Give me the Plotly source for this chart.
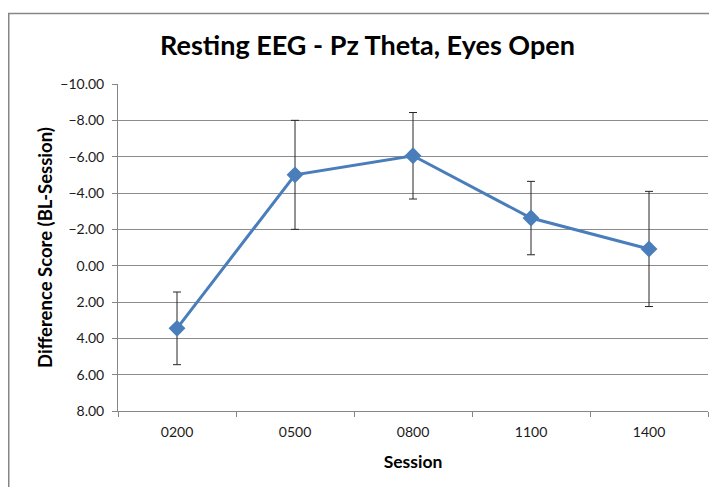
import plotly.graph_objects as go

sessions = ["0200", "0500", "0800", "1100", "1400"]
diff_scores = [3.45, -5.0, -6.05, -2.62, -0.92]
err = [2.0, 3.0, 2.38, 2.02, 3.17]
y_ticks = [-10, -8, -6, -4, -2, 0, 2, 4, 6, 8]

# page has an 8px body margin; layout below is in figure coordinates
L, R_EDGE, T, B = 110, 700, 76, 403
W, H = 717, 487
PW, PH = R_EDGE - L, B - T

fig = go.Figure()
fig.add_trace(go.Scatter(
    x=sessions, y=diff_scores, mode="lines+markers",
    line=dict(color="#4A7EBB", width=3),
    marker=dict(symbol="diamond", size=13, color="#4A7EBB"),
    error_y=dict(type="data", array=err, visible=True, color="#262626", thickness=1, width=4),
    showlegend=False, hoverinfo="skip",
))

font_main = "Lato, 'Open Sans', sans-serif"
fig.update_layout(
    width=W, height=H,
    margin=dict(l=L, r=W - R_EDGE, t=T, b=H - B),
    paper_bgcolor="white", plot_bgcolor="white",
    font=dict(family=font_main, color="#000000", size=14),
    title=dict(text="<b>Resting EEG - Pz Theta, Eyes Open</b>", x=(367.5 - 8) / W, xanchor="center",
               y=1 - 38 / H, yanchor="middle", font=dict(size=27, family=font_main, color="#000")),
    shapes=[dict(type="rect", xref="paper", yref="paper",
                 x0=(0.75 - L) / PW, x1=(730 - L) / PW,
                 y0=(B - 500) / PH, y1=(B - 5.5) / PH,
                 line=dict(color="#868686", width=1.5), layer="below")],
)
fig.update_xaxes(
    type="category", range=[-0.5, len(sessions) - 0.5],
    tickson="boundaries", ticks="outside", ticklen=5, tickcolor="#868686",
    showline=True, linecolor="#868686", linewidth=1, showgrid=False, automargin=False,
    tickfont=dict(size=14, color="#1a1a1a"), ticklabelstandoff=8,
    title=dict(text="<b>Session</b>", font=dict(size=17.5), standoff=16),
)
fig.update_yaxes(
    range=[8, -10], tickvals=y_ticks, tickformat=".2f", automargin=False,
    ticks="outside", ticklen=5, tickcolor="#868686",
    showline=True, linecolor="#868686", linewidth=1,
    showgrid=True, gridcolor="#8c8c8c", gridwidth=1, zeroline=False,
    tickfont=dict(size=14, color="#1a1a1a"), ticklabelstandoff=5,
    title=dict(text="<b>Difference Score (BL-Session)</b>", font=dict(size=18.5), standoff=2),
)
fig.write_html("out.html", config={"displayModeBar": False})
